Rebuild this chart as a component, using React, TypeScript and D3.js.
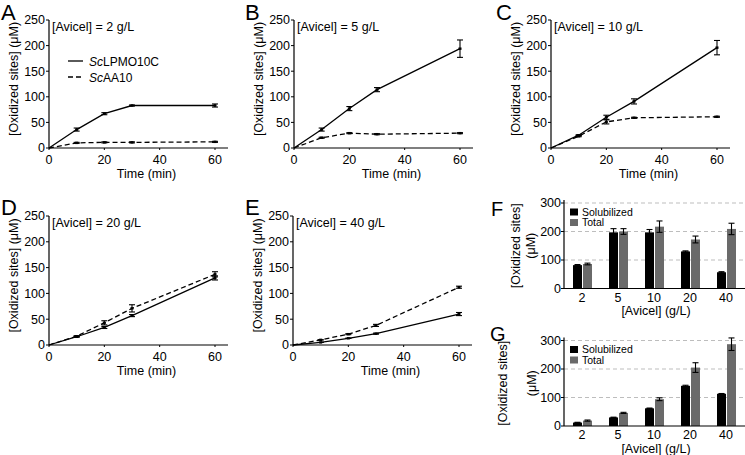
import React from 'react';
import * as d3 from 'd3';

const timePoints = [0, 10, 20, 30, 60];
const lineTicksX = [0, 20, 40, 60];
const lineTicksY = [0, 50, 100, 150, 200, 250];
const panelLetters = ['A', 'B', 'C', 'D', 'E'];
const avicelLoads = ['2', '5', '10', '20', '40'];

const lpmoA = [0, 36, 67, 83, 83];
const lpmoAErr = [0, 3, 2, 1, 3];
const aa10A = [0, 10, 11, 11, 12];
const aa10AErr = [0, 1, 1, 1, 1];

const lpmoB = [0, 36, 77, 114, 194];
const lpmoBErr = [0, 3, 4, 4, 17];
const aa10B = [0, 20, 29, 27, 29];
const aa10BErr = [0, 1, 1, 1, 1];

const lpmoC = [0, 25, 60, 91, 196];
const lpmoCErr = [0, 1, 4, 5, 14];
const aa10C = [0, 23, 51, 59, 61];
const aa10CErr = [0, 1, 4, 1, 1];

const lpmoD = [0, 16, 34, 57, 130];
const lpmoDErr = [0, 1, 2, 2, 4];
const aa10D = [0, 17, 43, 71, 137];
const aa10DErr = [0, 1, 4, 7, 5];

const lpmoE = [0, 5, 13, 22, 60];
const lpmoEErr = [0, 0, 0, 1, 3];
const aa10E = [0, 10, 21, 38, 112];
const aa10EErr = [0, 0, 1, 2, 2];

const solubilizedF = [82, 197, 197, 130, 57];
const solubilizedFErr = [2, 13, 10, 2, 2];
const totalF = [86, 200, 217, 172, 209];
const totalFErr = [3, 10, 20, 12, 20];

const solubilizedG = [12, 30, 62, 141, 113];
const solubilizedGErr = [1, 1, 1, 2, 1];
const totalG = [19, 46, 94, 205, 287];
const totalGErr = [2, 2, 5, 17, 22];

const barTicksY = [0, 100, 200, 300];

const FONT = '"Liberation Sans", Arial, Helvetica, sans-serif';
const GREY = '#6a6a6a';

const linePanels = [
  { letter: panelLetters[0], conc: avicelLoads[0], x0: 49, top: 20, bottom: 148, lx: 1, ly: 20, lpmo: lpmoA, lpmoErr: lpmoAErr, aa: aa10A, aaErr: aa10AErr, legend: true },
  { letter: panelLetters[1], conc: avicelLoads[1], x0: 294, top: 20, bottom: 148, lx: 245, ly: 20, lpmo: lpmoB, lpmoErr: lpmoBErr, aa: aa10B, aaErr: aa10BErr, legend: false },
  { letter: panelLetters[2], conc: avicelLoads[2], x0: 551, top: 20, bottom: 148, lx: 496, ly: 20, lpmo: lpmoC, lpmoErr: lpmoCErr, aa: aa10C, aaErr: aa10CErr, legend: false },
  { letter: panelLetters[3], conc: avicelLoads[3], x0: 49, top: 216, bottom: 345, lx: 1, ly: 215, lpmo: lpmoD, lpmoErr: lpmoDErr, aa: aa10D, aaErr: aa10DErr, legend: false },
  { letter: panelLetters[4], conc: avicelLoads[4], x0: 293, top: 216, bottom: 345, lx: 245, ly: 215, lpmo: lpmoE, lpmoErr: lpmoEErr, aa: aa10E, aaErr: aa10EErr, legend: false },
];

function LinePanel(p: any) {
  const x = d3.scaleLinear().domain([0, 60]).range([p.x0, p.x0 + 166]);
  const y = d3.scaleLinear().domain([0, 250]).range([p.bottom, p.top]);
  const line = d3.line<number>().x((_, i) => x(timePoints[i])).y((d) => y(d));
  const axisEnd = p.x0 + 179;
  const series = [
    { vals: p.lpmo, err: p.lpmoErr, dash: undefined },
    { vals: p.aa, err: p.aaErr, dash: '5,3' },
  ];
  return (
    <g>
      <text x={p.lx} y={p.ly} fontSize={22} fontFamily={FONT}>{p.letter}</text>
      <line x1={p.x0} x2={p.x0} y1={y(250)} y2={y(0)} stroke="#000" strokeWidth={1.2} />
      <line x1={p.x0} x2={axisEnd} y1={y(0)} y2={y(0)} stroke="#000" strokeWidth={1.2} />
      {lineTicksY.map((t) => (
        <g key={'yt' + t}>
          <line x1={p.x0 - 3} x2={p.x0} y1={y(t)} y2={y(t)} stroke="#000" strokeWidth={1} />
          <text x={p.x0 - 4} y={y(t)} dy="0.35em" textAnchor="end" fontSize={12.5} fontFamily={FONT}>{t}</text>
        </g>
      ))}
      {lineTicksX.map((t) => (
        <g key={'xt' + t}>
          <line x1={x(t)} x2={x(t)} y1={y(0)} y2={y(0) + 2} stroke="#000" strokeWidth={1} />
          <text x={x(t)} y={y(0) + 15.5} textAnchor="middle" fontSize={12.5} fontFamily={FONT}>{t}</text>
        </g>
      ))}
      <text x={(p.x0 + axisEnd) / 2 + 8} y={y(0) + 30} textAnchor="middle" fontSize={12.5} fontFamily={FONT}>Time (min)</text>
      <text transform={`translate(${p.x0 - 35},${(p.top + p.bottom) / 2 - 5}) rotate(-90)`} textAnchor="middle" dy="0.35em" fontSize={12.5} fontFamily={FONT}>[Oxidized sites] (μM)</text>
      <text x={p.x0 + 3} y={p.top + 10.5} fontSize={12.5} fontFamily={FONT}>[Avicel] = {p.conc} g/L</text>
      {series.map((s, si) => (
        <g key={'s' + si}>
          <path d={line(s.vals) || ''} fill="none" stroke="#000" strokeWidth={1.3} strokeDasharray={s.dash} />
          {s.vals.map((v: number, i: number) => (
            i === 0 ? null : (
              <g key={'e' + i}>
                <line x1={x(timePoints[i])} x2={x(timePoints[i])} y1={y(v - s.err[i])} y2={y(v + s.err[i])} stroke="#000" strokeWidth={1.1} />
                <line x1={x(timePoints[i]) - 3} x2={x(timePoints[i]) + 3} y1={y(v - s.err[i])} y2={y(v - s.err[i])} stroke="#000" strokeWidth={1.1} />
                <line x1={x(timePoints[i]) - 3} x2={x(timePoints[i]) + 3} y1={y(v + s.err[i])} y2={y(v + s.err[i])} stroke="#000" strokeWidth={1.1} />
                <rect x={x(timePoints[i]) - 1.5} y={y(v) - 1.2} width={3} height={2.4} fill="#000" />
              </g>
            )
          ))}
        </g>
      ))}
      {p.legend && (
        <g fontFamily={FONT} fontSize={12}>
          <line x1={p.x0 + 19} x2={p.x0 + 34} y1={p.top + 41} y2={p.top + 41} stroke="#000" strokeWidth={1.3} />
          <text x={p.x0 + 40} y={p.top + 45.5}><tspan fontStyle="italic">Sc</tspan>LPMO10C</text>
          <line x1={p.x0 + 19} x2={p.x0 + 34} y1={p.top + 57} y2={p.top + 57} stroke="#000" strokeWidth={1.3} strokeDasharray="5,3" />
          <text x={p.x0 + 40} y={p.top + 61.5}><tspan fontStyle="italic">Sc</tspan>AA10</text>
        </g>
      )}
    </g>
  );
}

const barPanels = [
  { letter: 'F', zero: 288.5, top300: 203, lx: 491, ly: 216, sol: solubilizedF, solErr: solubilizedFErr, tot: totalF, totErr: totalFErr, yl1: 516, yl2: 531, tickBase: 301.5, titleBase: 315 },
  { letter: 'G', zero: 426, top300: 340.5, lx: 490, ly: 341, sol: solubilizedG, solErr: solubilizedGErr, tot: totalG, totErr: totalGErr, yl1: 503, yl2: 532, tickBase: 438.5, titleBase: 452.5 },
];

function BarPanel(p: any) {
  const x = d3.scaleBand<string>().domain(avicelLoads).range([564, 744]).padding(0);
  const y = d3.scaleLinear().domain([0, 300]).range([p.zero, p.top300]);
  const ax = 564;
  const cy = (p.zero + p.top300) / 2;
  const bars = [
    { vals: p.sol, err: p.solErr, color: '#000', off: -9 },
    { vals: p.tot, err: p.totErr, color: GREY, off: 1 },
  ];
  return (
    <g fontFamily={FONT}>
      <text x={p.lx} y={p.ly} fontSize={20}>{p.letter}</text>
      {barTicksY.filter((t) => t > 0).map((t) => (
        <line key={'g' + t} x1={ax} x2={745} y1={y(t)} y2={y(t)} stroke="#bdbdbd" strokeWidth={1} strokeDasharray="4,3" />
      ))}
      {bars.map((b, bi) => (
        <g key={'b' + bi}>
          {avicelLoads.map((c, i) => {
            const cx = (x(c) as number) + x.bandwidth() / 2;
            const bx = cx + b.off;
            const v = b.vals[i];
            const e = b.err[i];
            return (
              <g key={c}>
                <rect x={bx} y={y(v)} width={9} height={y(0) - y(v)} fill={b.color} />
                <line x1={bx + 4.5} x2={bx + 4.5} y1={y(v - e)} y2={y(v + e)} stroke="#000" strokeWidth={1.1} />
                <line x1={bx + 1.5} x2={bx + 7.5} y1={y(v + e)} y2={y(v + e)} stroke="#000" strokeWidth={1.1} />
                <line x1={bx + 1.5} x2={bx + 7.5} y1={y(v - e)} y2={y(v - e)} stroke="#000" strokeWidth={1.1} />
              </g>
            );
          })}
        </g>
      ))}
      <line x1={ax} x2={ax} y1={y(300) - 3} y2={y(0)} stroke="#000" strokeWidth={1.2} />
      <line x1={ax} x2={745} y1={y(0)} y2={y(0)} stroke="#000" strokeWidth={1.2} />
      {barTicksY.map((t) => (
        <g key={'t' + t}>
          <line x1={ax - 3} x2={ax} y1={y(t)} y2={y(t)} stroke="#000" strokeWidth={1} />
          <text x={ax - 3} y={y(t)} dy="0.35em" textAnchor="end" fontSize={12.5}>{t}</text>
        </g>
      ))}
      {avicelLoads.map((c) => (
        <text key={'x' + c} x={(x(c) as number) + x.bandwidth() / 2} y={p.tickBase} textAnchor="middle" fontSize={12.5}>{c}</text>
      ))}
      <text x={656} y={p.titleBase} textAnchor="middle" fontSize={12.5}>[Avicel] (g/L)</text>
      <text transform={`translate(${p.yl1},${cy}) rotate(-90)`} textAnchor="middle" dy="0.35em" fontSize={12.5}>[Oxidized sites]</text>
      <text transform={`translate(${p.yl2},${cy}) rotate(-90)`} textAnchor="middle" dy="0.35em" fontSize={12.5}>(μM)</text>
      <rect x={570} y={y(300) + 5.5} width={8} height={7} fill="#000" />
      <text x={582} y={y(300) + 12.5} fontSize={10.5}>Solubilized</text>
      <rect x={570} y={y(300) + 16} width={8} height={7} fill={GREY} />
      <text x={582} y={y(300) + 23} fontSize={10.5}>Total</text>
    </g>
  );
}

export default function App() {
  return (
    <svg width={745} height={455} style={{ position: 'absolute', left: 0, top: 0, background: '#fff' }}>
      <rect x={0} y={0} width={745} height={455} fill="#fff" />
      {linePanels.map((p) => <LinePanel key={p.letter} {...p} />)}
      {barPanels.map((p) => <BarPanel key={p.letter} {...p} />)}
    </svg>
  );
}
